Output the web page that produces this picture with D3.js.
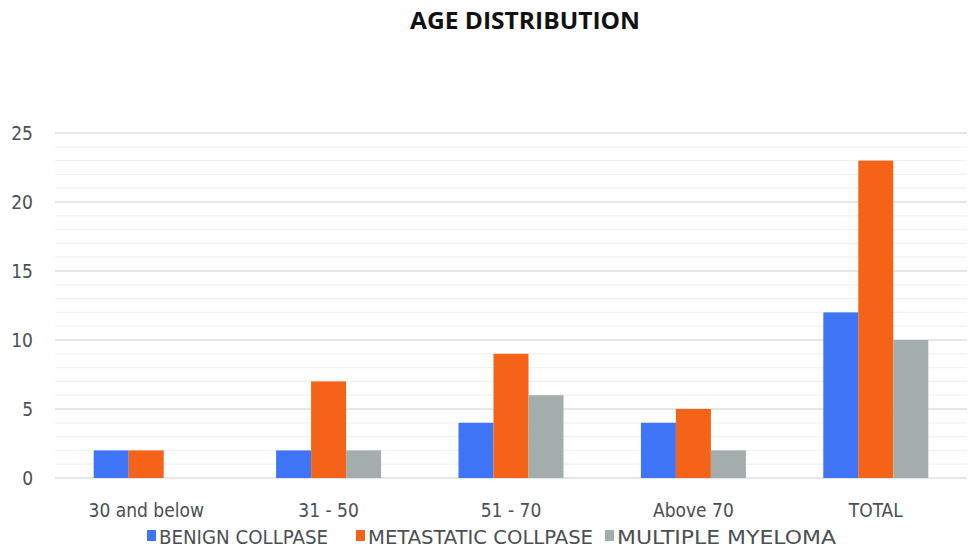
<!DOCTYPE html>
<html><head><meta charset="utf-8">
<script src="https://cdn.jsdelivr.net/npm/d3@7"></script>
<style>body{margin:0;background:#fff;} svg{display:block;}</style>
</head><body><svg id="c" width="977" height="554"></svg>
<script>
const categories = ["30 and below", "31 - 50", "51 - 70", "Above 70", "TOTAL"];
const seriesNames = ["BENIGN COLLPASE", "METASTATIC COLLPASE", "MULTIPLE MYELOMA"];
const benign = [2, 2, 4, 4, 12];
const metastatic = [2, 7, 9, 5, 23];
const myeloma = [0, 2, 6, 2, 10];
const yTicks = [0, 5, 10, 15, 20, 25];
const colors = ["#3f74f6", "#f46317", "#a3adab"];

const values = [benign, metastatic, myeloma];
const svg = d3.select("#c");
const font = "'Liberation Sans Narrow', 'DejaVu Sans Condensed', sans-serif";
const m = {l: 55, r: 10, t: 133, b: 76};
const W = 977, H = 554;
const x = d3.scaleBand().domain(categories).range([m.l, W - m.r]).paddingInner(0).paddingOuter(0);
const x1 = d3.scaleBand().domain(d3.range(3)).range([0, 105]);
const y = d3.scaleLinear().domain([0, 25]).range([H - m.b, m.t]);

// minor grid
svg.append("g").selectAll("line").data(d3.range(0, 26)).join("line")
  .attr("x1", m.l).attr("x2", W - m.r)
  .attr("y1", d => y(d)).attr("y2", d => y(d))
  .attr("stroke", d => d % 5 === 0 ? "#dcdfe0" : "#f1f2f2").attr("stroke-width", 1.3);

// y axis labels
const ya = svg.append("g").attr("transform", `translate(${m.l},0)`)
  .call(d3.axisLeft(y).tickValues(yTicks).tickSize(0).tickPadding(22));
ya.select(".domain").remove();
ya.selectAll("text").attr("font-family", font).attr("font-size", 19).attr("fill", "#4a4f52");

// bars
const g = svg.append("g");
categories.forEach((c, i) => {
  values.forEach((s, j) => {
    if (s[i] > 0) {
      g.append("rect")
        .attr("x", x(c) + x.bandwidth() / 2 - 52.5 + x1(j))
        .attr("width", x1.bandwidth())
        .attr("y", y(s[i]))
        .attr("height", y(0) - y(s[i]))
        .attr("fill", colors[j]);
    }
  });
});

// x axis labels
const xa = svg.append("g").attr("transform", `translate(0,${y(0)})`)
  .call(d3.axisBottom(x).tickSize(0).tickPadding(26));
xa.select(".domain").remove();
xa.selectAll("text").attr("font-family", font).attr("font-size", 19).attr("fill", "#4a4f52");

// title
svg.append("text").attr("x", 525).attr("y", 29).attr("text-anchor", "middle")
  .attr("font-family", "'Open Sans', sans-serif").attr("font-weight", "bold").attr("font-size", 23)
  .attr("textLength", 230).attr("lengthAdjust", "spacingAndGlyphs")
  .attr("fill", "#111").text("AGE DISTRIBUTION");

// legend
const legX = [147, 356, 605];
const legW = [169, 225, 219];
const lg = svg.append("g");
seriesNames.forEach((n, j) => {
  lg.append("rect").attr("x", legX[j]).attr("y", 530).attr("width", 9).attr("height", 11).attr("fill", colors[j]);
  lg.append("text").attr("x", legX[j] + 12).attr("y", 544).attr("font-family", font).attr("font-size", 20)
    .attr("textLength", legW[j]).attr("lengthAdjust", "spacingAndGlyphs")
    .attr("fill", "#4a4f52").text(n);
});
</script></body></html>
